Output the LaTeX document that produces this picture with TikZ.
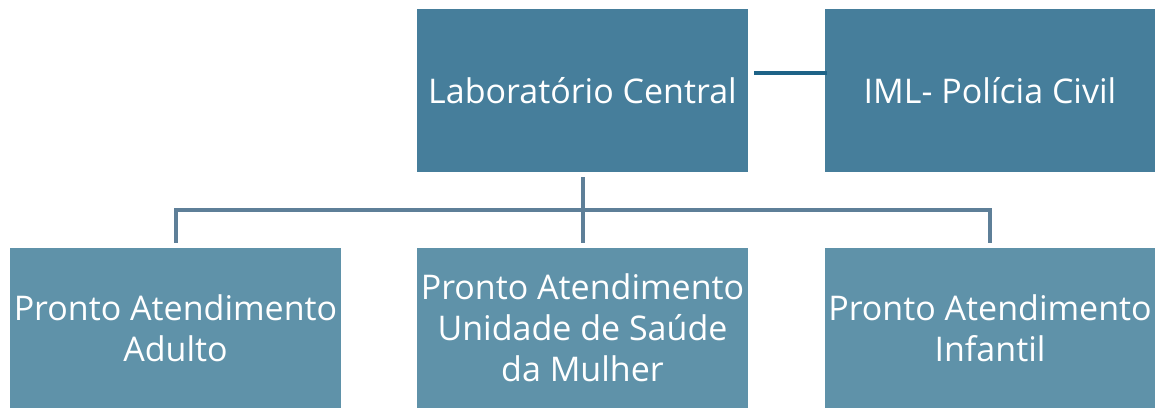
\documentclass[tikz,border=0pt]{standalone}
\usepackage{fontspec}
\setmainfont{Open Sans}
\usetikzlibrary{positioning}

\definecolor{topblue}{HTML}{467E9B}
\definecolor{lowblue}{HTML}{5F92A9}
\definecolor{treeline}{HTML}{5E7F98}
\definecolor{sideline}{HTML}{1E6387}

\tikzset{
  unitbox/.style={fill=#1, text=white, minimum width=331pt, align=center, inner sep=0pt, font=\fontsize{34}{41}\selectfont},
  topunit/.style={unitbox=topblue, minimum height=163pt},
  lowunit/.style={unitbox=lowblue, minimum height=160pt},
  tree/.style={draw=treeline, line width=4pt},
  side/.style={draw=sideline, line width=4pt}
}

\begin{document}
\begin{tikzpicture}[x=1pt, y=-1pt]
  \useasboundingbox (0,0) rectangle (1155,408);
  \node[topunit] (lab) at (582.5,90.5) {Laboratório Central};
  \node[topunit] (iml) at (990,90.5) {IML- Polícia Civil};
  \node[lowunit] (adulto) at (175.5,328) {Pronto Atendimento\\Adulto};
  \node[lowunit] (mulher) at (582.5,328) {Pronto Atendimento\\Unidade de Saúde\\da Mulher};
  \node[lowunit] (infantil) at (990,328) {Pronto Atendimento\\Infantil};
  \coordinate (bar) at (582.5,210);
  \draw[side] ([xshift=6pt,yshift=17.5pt]lab.east) -- ([xshift=3pt,yshift=17.5pt]iml.west);
  \draw[tree] ([yshift=-5pt]lab.south) -- ([yshift=5pt]mulher.north);
  \draw[tree] ([yshift=5pt]adulto.north) |- (bar) -| ([yshift=5pt]infantil.north);
\end{tikzpicture}
\end{document}
